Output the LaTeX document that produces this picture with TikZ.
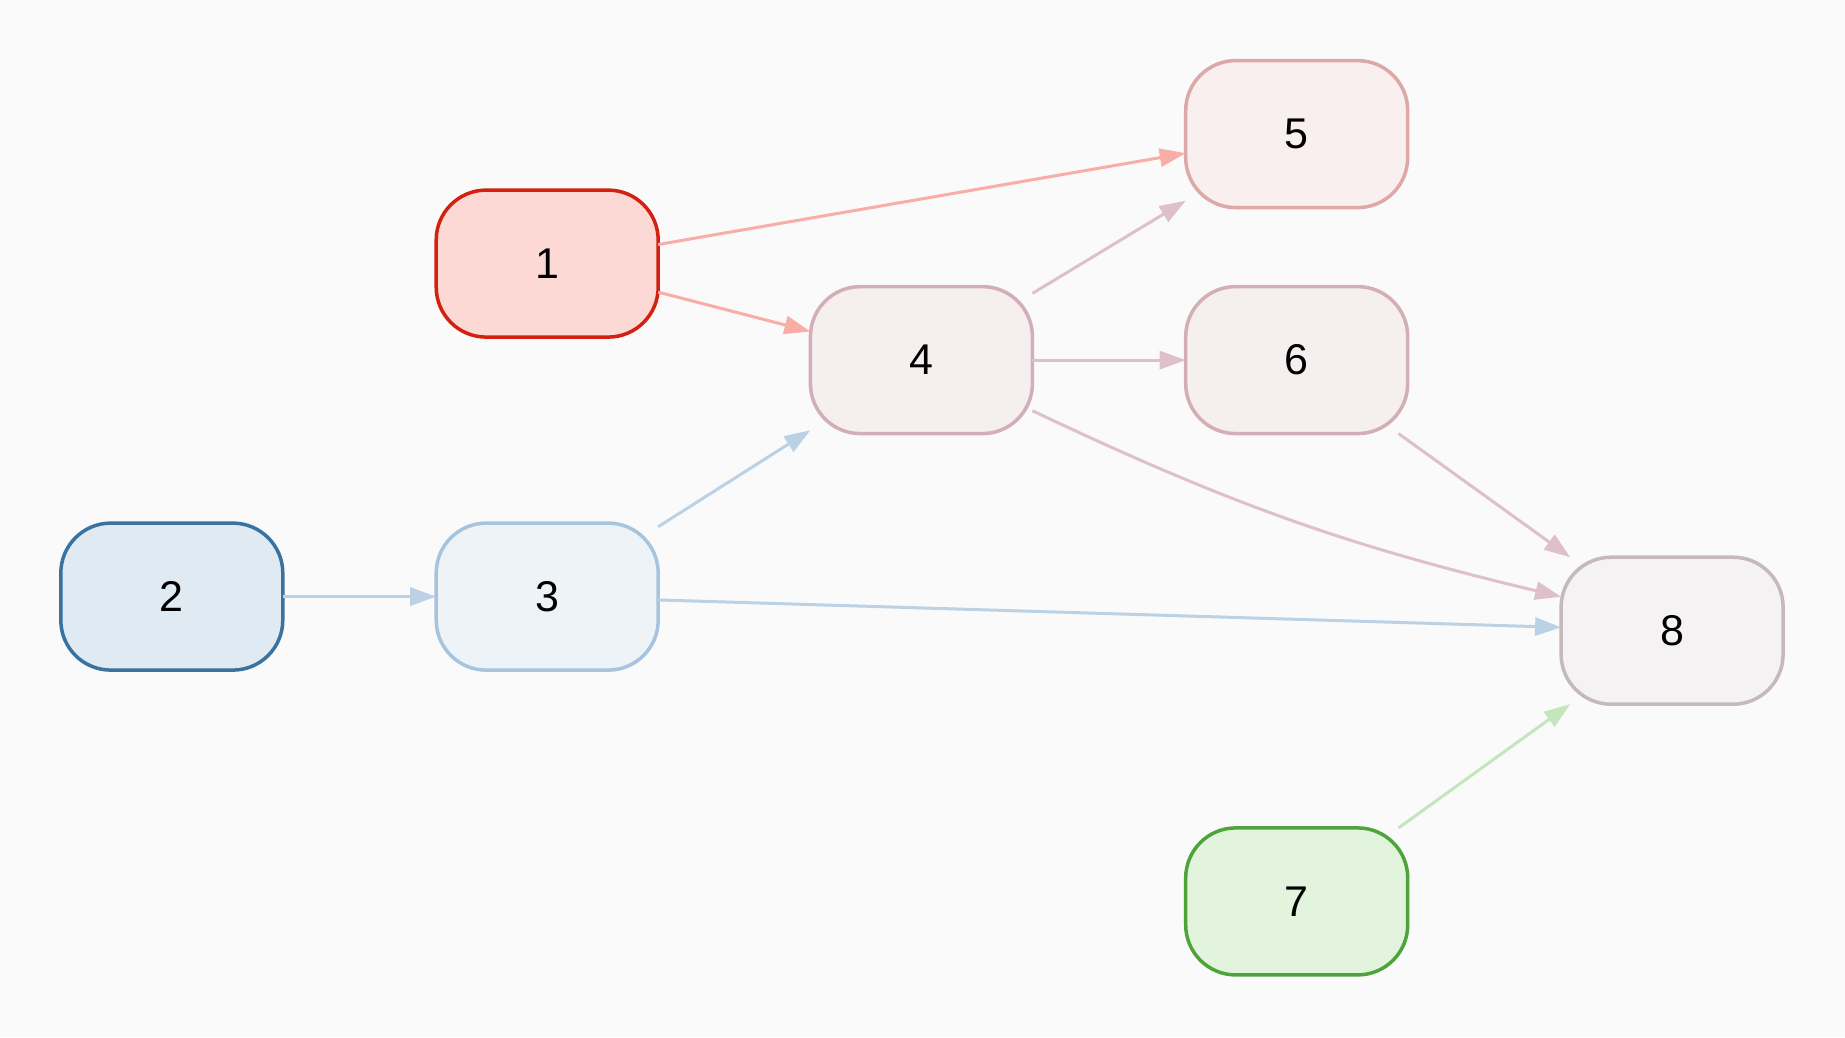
\documentclass[tikz,border=0pt]{standalone}
\usepackage{fontspec}
\setmainfont{Liberation Sans}
\usetikzlibrary{arrows.meta}
\definecolor{bg}{HTML}{FAFAFA}
\definecolor{f1}{HTML}{FCD9D5}\definecolor{d1}{HTML}{D42010}
\definecolor{f2}{HTML}{E0EAF3}\definecolor{d2}{HTML}{3A72A0}
\definecolor{f3}{HTML}{EEF3F8}\definecolor{d3}{HTML}{A6C4DE}
\definecolor{f4}{HTML}{F5EFEF}\definecolor{d4}{HTML}{D2AEB7}
\definecolor{f5}{HTML}{F8EFEE}\definecolor{d5}{HTML}{DCA8A8}
\definecolor{f6}{HTML}{F6EFF0}\definecolor{d6}{HTML}{D3AEB6}
\definecolor{f7}{HTML}{E2F4DE}\definecolor{d7}{HTML}{4EA43A}
\definecolor{f8}{HTML}{F4F2F3}\definecolor{d8}{HTML}{C6B9BA}
\definecolor{eRed}{HTML}{F8ADA6}
\definecolor{ePink}{HTML}{DEC1C8}
\definecolor{eBlue}{HTML}{BBD2E6}
\definecolor{eGreen}{HTML}{C3E6BC}
\tikzset{
  box/.style={rectangle, rounded corners=50pt, minimum width=222pt, minimum height=147pt,
    inner sep=0pt, outer sep=0pt, line width=3.5pt, font=\fontsize{43}{50}\selectfont},
  edge/.style={line width=3pt, -{Triangle[length=26pt,width=18pt]}},
}
\begin{document}
\begin{tikzpicture}[x=1pt,y=-1pt]
\fill[bg] (0,0) rectangle (1845,1037);
\node[box, fill=f1, draw=d1] (n1) at (547.2,263.6) {1};
\node[box, fill=f2, draw=d2] (n2) at (171.8,596.6) {2};
\node[box, fill=f3, draw=d3] (n3) at (547.2,596.6) {3};
\node[box, fill=f4, draw=d4] (n4) at (921.4,360.1) {4};
\node[box, fill=f5, draw=d5] (n5) at (1296.7,134.1) {5};
\node[box, fill=f6, draw=d6] (n6) at (1296.7,360.1) {6};
\node[box, fill=f7, draw=d7] (n7) at (1296.7,901.4) {7};
\node[box, fill=f8, draw=d8] (n8) at (1672.1,630.7) {8};
\draw[edge, eRed] (n1) -- (n5);
\draw[edge, eRed] (n1) -- (n4);
\draw[edge, eBlue] (n2) -- (n3);
\draw[edge, eBlue] (n3) -- (n4);
\draw[edge, eBlue] (n3) -- (n8);
\draw[edge, ePink] (n4) -- (n5);
\draw[edge, ePink] (n4) -- (n6);
\draw[edge, ePink] ([yshift=-50.6pt]n4.east) to[bend right=6] ([yshift=34pt]n8.west);
\draw[edge, ePink] (n6) -- (n8);
\draw[edge, eGreen] (n7) -- (n8);
\end{tikzpicture}
\end{document}
